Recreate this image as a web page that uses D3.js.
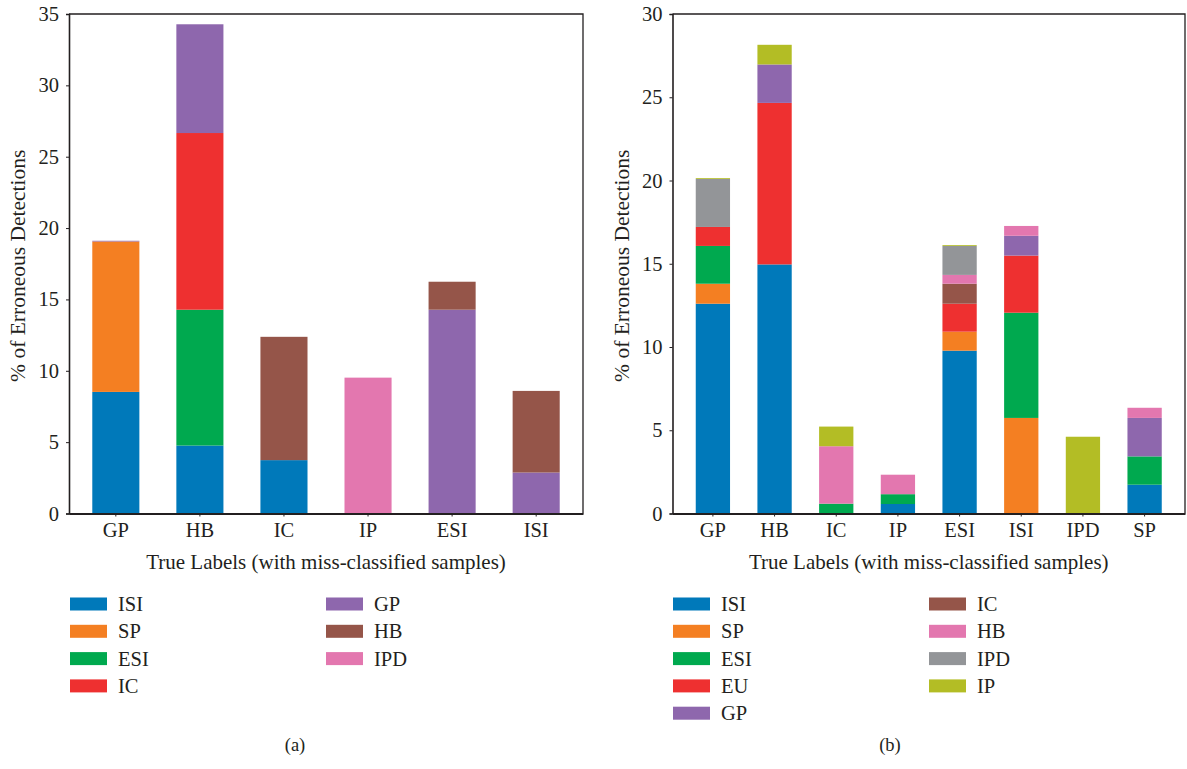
<!DOCTYPE html>
<html>
<head>
<meta charset="utf-8">
<script src="https://cdn.jsdelivr.net/npm/d3@7/dist/d3.min.js"></script>
<style>
  html, body { margin: 0; padding: 0; background: #fff; }
  svg { display: block; }
  text { font-family: "Liberation Serif", "DejaVu Serif", serif; fill: #231f20; }
</style>
</head>
<body>
<svg id="fig" width="1187" height="769"></svg>
<script>
// ---- Panel (a) data: true labels and the share assigned to each predicted class ----
const catsA = ["GP", "HB", "IC", "IP", "ESI", "ISI"];
const seriesA = ["ISI", "SP", "ESI", "IC", "GP", "HB", "IPD"];
const aISI = [8.52, 4.76, 3.74, 0, 0, 0];
const aSP  = [10.54, 0, 0, 0, 0, 0];
const aESI = [0, 9.52, 0, 0, 0, 0];
const aIC  = [0, 12.38, 0, 0, 0, 0];
const aGP  = [0.05, 7.62, 0, 0, 14.28, 2.87];
const aHB  = [0, 0, 8.64, 0, 1.96, 5.72];
const aIPD = [0, 0, 0, 9.52, 0, 0];
const colorsA = ["#0079ba", "#f47f22", "#00a94f", "#ee3030", "#8e67ad", "#955549", "#e377af"];
const ticksA = [0, 5, 10, 15, 20, 25, 30, 35];

// ---- Panel (b) data ----
const catsB = ["GP", "HB", "IC", "IP", "ESI", "ISI", "IPD", "SP"];
const seriesB = ["ISI", "SP", "ESI", "EU", "GP", "IC", "HB", "IPD", "IP"];
const bISI = [12.60, 14.96, 0, 0.57, 9.78, 0, 0, 1.73];
const bSP  = [1.20, 0, 0, 0, 1.14, 5.74, 0, 0];
const bESI = [2.27, 0, 0.59, 0.59, 0, 6.32, 0, 1.70];
const bEU  = [1.14, 9.70, 0, 0, 1.68, 3.43, 0, 0];
const bGP  = [0, 2.31, 0, 0, 0, 1.19, 0, 2.31];
const bIC  = [0, 0, 0, 0, 1.20, 0, 0, 0];
const bHB  = [0, 0, 3.45, 1.17, 0.53, 0.59, 0, 0.61];
const bIPD = [2.88, 0, 0, 0, 1.74, 0, 0, 0];
const bIP  = [0.05, 1.18, 1.18, 0, 0.05, 0, 4.61, 0];
const colorsB = ["#0079ba", "#f47f22", "#00a94f", "#ee3030", "#8e67ad", "#955549", "#e377af", "#939598", "#b3bd25"];
const ticksB = [0, 5, 10, 15, 20, 25, 30];

const xTitle = "True Labels (with miss-classified samples)";
const yTitle = "% of Erroneous Detections";

const svg = d3.select("#fig");
const ink = "#231f20";

function drawPanel(cfg) {
  const { cats, series, columns, colors, ticks, yMax, left, right, top, bottom,
          padInner, padOuter, legend, caption } = cfg;
  const g = svg.append("g");

  const x = d3.scaleBand().domain(cats).range([left, right])
    .paddingInner(padInner).paddingOuter(padOuter);
  const y = d3.scaleLinear().domain([0, yMax]).range([bottom, top]);

  // rows: one object per category, one key per predicted class
  const rows = cats.map((c, i) => {
    const r = { cat: c };
    series.forEach((s, j) => { r[s] = columns[j][i]; });
    return r;
  });
  const stacked = d3.stack().keys(series)(rows);
  const color = d3.scaleOrdinal().domain(series).range(colors);

  g.append("g").selectAll("g").data(stacked).join("g")
    .attr("fill", d => color(d.key))
    .selectAll("rect").data(d => d.filter(p => p[1] - p[0] > 0)).join("rect")
    .attr("x", d => x(d.data.cat))
    .attr("width", x.bandwidth())
    .attr("y", d => y(d[1]))
    .attr("height", d => y(d[0]) - y(d[1]));

  // frame on top and right
  g.append("path")
    .attr("d", `M${left},${top}H${right}V${bottom}`)
    .attr("fill", "none").attr("stroke", ink).attr("stroke-width", 1.3);

  // y axis
  const yAxis = g.append("g").attr("transform", `translate(${left},0)`)
    .call(d3.axisLeft(y).tickValues(ticks).tickSize(3).tickPadding(7).tickFormat(d3.format("d")));
  yAxis.select(".domain").attr("stroke", ink).attr("stroke-width", 1.6);
  yAxis.selectAll(".tick line").attr("stroke", ink);
  yAxis.selectAll("text").attr("font-size", 20.5).attr("fill", ink)
    .attr("font-family", "Liberation Serif, serif");

  // x axis
  const xAxis = g.append("g").attr("transform", `translate(0,${bottom})`)
    .call(d3.axisBottom(x).tickSize(3).tickPadding(6).tickSizeOuter(0));
  xAxis.select(".domain").attr("stroke", ink).attr("stroke-width", 2);
  xAxis.selectAll(".tick line").attr("stroke", ink);
  xAxis.selectAll("text").attr("font-size", 20.5).attr("fill", ink)
    .attr("font-family", "Liberation Serif, serif");

  // axis titles
  g.append("text")
    .attr("x", (left + right) / 2).attr("y", 569)
    .attr("text-anchor", "middle").attr("font-size", 21)
    .text(xTitle);
  g.append("text")
    .attr("transform", `translate(${cfg.yTitleX},${(top + bottom) / 2 + 2}) rotate(-90)`)
    .attr("text-anchor", "middle").attr("font-size", 21.5)
    .text(yTitle);

  // legend, two columns
  const perCol = Math.ceil(series.length / 2);
  const lg = g.append("g");
  series.forEach((s, i) => {
    const col = i < perCol ? 0 : 1;
    const row = i < perCol ? i : i - perCol;
    const lx = legend.x + col * legend.colGap;
    const ly = legend.y + row * 27.3;
    lg.append("rect").attr("x", lx).attr("y", ly - 6.5)
      .attr("width", 37).attr("height", 13).attr("fill", color(s));
    lg.append("text").attr("x", lx + 48).attr("y", ly + 7)
      .attr("font-size", 20.5).text(s);
  });

  g.append("text").attr("x", caption.x).attr("y", caption.y)
    .attr("text-anchor", "middle").attr("font-size", 18.5).text(caption.t);
}

drawPanel({
  cats: catsA, series: seriesA,
  columns: [aISI, aSP, aESI, aIC, aGP, aHB, aIPD],
  colors: colorsA, ticks: ticksA, yMax: 35,
  left: 69, right: 583, top: 14, bottom: 513.5,
  padInner: 0.44, padOuter: 0.277,
  yTitleX: 25,
  legend: { x: 70, y: 604, colGap: 256 },
  caption: { x: 295, y: 751, t: "(a)" }
});

drawPanel({
  cats: catsB, series: seriesB,
  columns: [bISI, bSP, bESI, bEU, bGP, bIC, bHB, bIPD, bIP],
  colors: colorsB, ticks: ticksB, yMax: 30,
  left: 672.5, right: 1185, top: 14, bottom: 513.5,
  padInner: 0.444, padOuter: 0.377,
  yTitleX: 629,
  legend: { x: 673, y: 604, colGap: 256 },
  caption: { x: 890, y: 751, t: "(b)" }
});
</script>
</body>
</html>
